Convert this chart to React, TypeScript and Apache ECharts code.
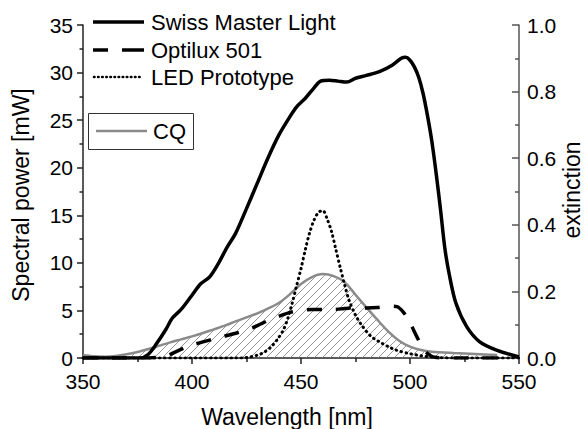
import React, { useEffect, useRef } from 'react';
import * as echarts from 'echarts';

// Swiss Master Light (solid)
const swissWl = [350, 360, 370, 376, 380, 384, 388, 391, 395, 400, 404, 408, 412, 416, 420, 425, 430, 435, 440, 445, 448, 452, 456, 459, 463, 467, 471, 475, 480, 486, 492, 496, 498, 500, 502, 504, 506, 508, 510, 512, 514, 516, 518, 521, 526, 532, 540, 550];
const swissPw = [0, 0, 0, 0, 0.4, 1.6, 3.0, 4.2, 5.1, 6.6, 7.8, 8.5, 9.9, 11.6, 13.1, 15.7, 18.4, 21.1, 23.5, 25.4, 26.4, 27.3, 28.4, 29.1, 29.2, 29.1, 29.0, 29.4, 29.7, 30.1, 30.8, 31.5, 31.6, 31.3, 30.6, 29.5, 27.8, 25.5, 22.8, 19.4, 15.6, 11.5, 8.8, 5.8, 3.3, 1.7, 0.8, 0.1];

// Optilux 501 (dashed)
const optWl = [350, 380, 388, 392, 396, 400, 405, 410, 415, 420, 425, 430, 435, 440, 445, 450, 455, 460, 465, 470, 475, 480, 485, 490, 494, 497, 500, 503, 506, 509, 512, 520, 545];
const optPw = [0, 0, 0.2, 0.6, 1.0, 1.35, 1.7, 2.0, 2.3, 2.6, 2.95, 3.4, 3.95, 4.4, 4.8, 5.0, 5.1, 5.1, 5.1, 5.2, 5.3, 5.25, 5.3, 5.45, 5.4, 4.8, 3.7, 2.3, 1.0, 0.3, 0.05, 0, 0];

// LED Prototype (dotted)
const ledWl = [350, 420, 425, 430, 433, 436, 439, 442, 444, 446, 448, 450, 452, 454, 456, 458, 460, 462, 464, 466, 468, 470, 472, 475, 478, 482, 486, 490, 494, 500, 505, 510, 520, 550];
const ledPw = [0, 0, 0.05, 0.3, 0.6, 1.1, 1.9, 3.0, 4.2, 5.8, 7.6, 9.4, 11.4, 13.2, 14.5, 15.3, 15.5, 14.6, 13.3, 11.4, 9.5, 7.7, 6.1, 4.5, 3.4, 2.3, 1.7, 1.2, 0.8, 0.45, 0.25, 0.1, 0, 0];

// CQ extinction (right axis)
const cqWl = [350, 355, 360, 365, 370, 375, 380, 385, 390, 395, 400, 405, 410, 415, 420, 425, 430, 435, 440, 445, 450, 455, 460, 465, 470, 475, 480, 485, 490, 495, 500, 505, 510, 520, 530, 540];
const cqExt = [0.009, 0.005, 0.004, 0.006, 0.011, 0.018, 0.027, 0.037, 0.047, 0.056, 0.065, 0.075, 0.086, 0.097, 0.11, 0.122, 0.134, 0.149, 0.166, 0.192, 0.222, 0.243, 0.252, 0.246, 0.228, 0.19, 0.152, 0.115, 0.08, 0.052, 0.034, 0.024, 0.019, 0.015, 0.012, 0.009];

const seriesNames = ['Swiss Master Light', 'Optilux 501', 'LED Prototype', 'CQ'];
const xTitle = 'Wavelength [nm]';
const yLeftTitle = 'Spectral power [mW]';
const yRightTitle = 'extinction';

const FONT = '"Liberation Sans", Arial, Helvetica, sans-serif';

function pairs(xs: number[], ys: number[]) {
  return xs.map((x, i) => [x, ys[i]]);
}

function makeHatch() {
  const c = document.createElement('canvas');
  c.width = 8;
  c.height = 8;
  const ctx = c.getContext('2d')!;
  ctx.strokeStyle = '#7a7a7a';
  ctx.lineWidth = 0.8;
  ctx.beginPath();
  ctx.moveTo(0, 8);
  ctx.lineTo(8, 0);
  ctx.moveTo(-2, 2);
  ctx.lineTo(2, -2);
  ctx.moveTo(6, 10);
  ctx.lineTo(10, 6);
  ctx.stroke();
  return c;
}

export default function App() {
  const ref = useRef<HTMLDivElement>(null);
  useEffect(() => {
    document.body.style.margin = '0';
    if (!ref.current) return;
    const chart = echarts.init(ref.current, null, { renderer: 'svg' });
    const axisCol = '#222';
    const labelStyle = { color: '#000', fontSize: 21, lineHeight: 18, fontFamily: FONT };
    const option: any = {
      animation: false,
      grid: { left: 83, right: 66, top: 25, bottom: 71, containLabel: false },
      xAxis: {
        type: 'value', min: 350, max: 550, interval: 50,
        axisLine: { show: true, onZero: false, lineStyle: { color: axisCol, width: 1.5 } },
        axisTick: { show: true, length: 6, lineStyle: { color: axisCol, width: 1.5 } },
        minorTick: { show: true, splitNumber: 2, length: 4, lineStyle: { color: axisCol, width: 1.5 } },
        splitLine: { show: false },
        axisLabel: { ...labelStyle, margin: 14, showMinLabel: true, showMaxLabel: true },
      },
      yAxis: [
        {
          type: 'value', min: 0, max: 35, interval: 5, position: 'left',
          axisLine: { show: true, onZero: false, lineStyle: { color: axisCol, width: 1.5 } },
          axisTick: { show: true, length: 6, lineStyle: { color: axisCol, width: 1.5 } },
          minorTick: { show: true, splitNumber: 2, length: 3.5, lineStyle: { color: axisCol, width: 1.5 } },
          splitLine: { show: false },
          axisLabel: { ...labelStyle, margin: 10, showMinLabel: true, showMaxLabel: true },
        },
        {
          type: 'value', min: 0, max: 1, interval: 0.2, position: 'right',
          axisLine: { show: true, onZero: false, lineStyle: { color: '#555', width: 1.5 } },
          axisTick: { show: true, inside: true, length: 7, lineStyle: { color: '#555', width: 1.5 } },
          minorTick: { show: true, splitNumber: 2, length: 4, lineStyle: { color: '#555', width: 1.5 } },
          splitLine: { show: false },
          axisLabel: { ...labelStyle, margin: 8, formatter: (v: number) => v.toFixed(1), showMinLabel: true, showMaxLabel: true },
        },
      ],
      series: [
        {
          name: seriesNames[3], type: 'line', yAxisIndex: 1, data: pairs(cqWl, cqExt),
          showSymbol: false, symbol: 'none', smooth: 0.3, z: 1,
          lineStyle: { color: '#8a8a8a', width: 2.5 },
          areaStyle: { color: { image: makeHatch(), repeat: 'repeat' }, opacity: 1 },
        },
        {
          name: seriesNames[1], type: 'line', data: pairs(optWl, optPw),
          showSymbol: false, symbol: 'none', smooth: 0.3, z: 3,
          lineStyle: { color: '#000', width: 3.5, type: [15, 14] },
        },
        {
          name: seriesNames[2], type: 'line', data: pairs(ledWl, ledPw),
          showSymbol: false, symbol: 'none', smooth: 0.3, z: 4,
          lineStyle: { color: '#000', width: 3, type: [0.5, 4.6], cap: 'round' },
        },
        {
          name: seriesNames[0], type: 'line', data: pairs(swissWl, swissPw),
          showSymbol: false, symbol: 'none', smooth: 0.3, z: 5,
          lineStyle: { color: '#000', width: 3.5 },
        },
      ],
      graphic: [
        { type: 'line', shape: { x1: 93, y1: 22, x2: 144, y2: 22 }, style: { stroke: '#000', lineWidth: 3.5 } },
        { type: 'text', x: 151, y: 22, style: { text: seriesNames[0], font: `22px ${FONT}`, fill: '#000', verticalAlign: 'middle' } },
        { type: 'line', shape: { x1: 93, y1: 50, x2: 108, y2: 50 }, style: { stroke: '#000', lineWidth: 3.5 } },
        { type: 'line', shape: { x1: 122, y1: 50, x2: 144, y2: 50 }, style: { stroke: '#000', lineWidth: 3.5 } },
        { type: 'text', x: 151, y: 50, style: { text: seriesNames[1], font: `22px ${FONT}`, fill: '#000', verticalAlign: 'middle' } },
        { type: 'line', shape: { x1: 94, y1: 77, x2: 143, y2: 77 }, style: { stroke: '#000', lineWidth: 2.6, lineDash: [0.5, 3.6], lineCap: 'round' } },
        { type: 'text', x: 151, y: 77, style: { text: seriesNames[2], font: `22px ${FONT}`, fill: '#000', verticalAlign: 'middle' } },
        { type: 'rect', shape: { x: 88.5, y: 113.5, width: 105, height: 36 }, style: { stroke: '#333', lineWidth: 1, fill: 'none' } },
        { type: 'line', shape: { x1: 96, y1: 131, x2: 147, y2: 131 }, style: { stroke: '#8a8a8a', lineWidth: 2.5 } },
        { type: 'text', x: 153, y: 131, style: { text: seriesNames[3], font: `22px ${FONT}`, fill: '#000', verticalAlign: 'middle' } },
        { type: 'text', x: 287, y: 417, style: { text: xTitle, font: `23px ${FONT}`, lineHeight: 22, fill: '#000', align: 'center', verticalAlign: 'middle' } },
        { type: 'text', x: 21, y: 195, rotation: Math.PI / 2, style: { text: yLeftTitle, font: `23px ${FONT}`, lineHeight: 22, fill: '#000', align: 'center', verticalAlign: 'middle' } },
        { type: 'text', x: 572, y: 190, rotation: Math.PI / 2, style: { text: yRightTitle, font: `23px ${FONT}`, lineHeight: 20, fill: '#000', align: 'center', verticalAlign: 'middle' } },
      ],
    };
    chart.setOption(option);
    return () => chart.dispose();
  }, []);
  return <div ref={ref} style={{ width: 585, height: 429 }} />;
}
